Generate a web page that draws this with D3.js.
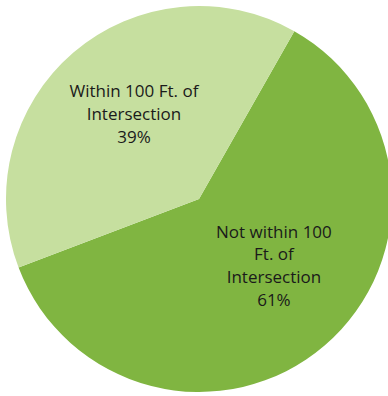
<!DOCTYPE html>
<html><head><meta charset="utf-8">
<script src="https://cdn.jsdelivr.net/npm/d3@7"></script>
<style>html,body{margin:0;padding:0;background:#fff;}svg{display:block;}</style>
</head><body>
<svg id="c" width="388" height="396"></svg>
<script>
const categories = ["Not within 100 Ft. of Intersection", "Within 100 Ft. of Intersection"];
const values = [61, 39];
const labelLines = [
  ["Not within 100", "Ft. of", "Intersection", "61%"],
  ["Within 100 Ft. of", "Intersection", "39%"]
];
const colors = ["#80B541", "#C6DF9F"];

const svg = d3.select("#c");
const cx = 199, cy = 199, r = 193;
const start = 29.6 * Math.PI / 180;
const pie = d3.pie().sort(null).value(d => d).startAngle(start).endAngle(start + 2 * Math.PI);
const arcs = pie(values);
const arc = d3.arc().innerRadius(0).outerRadius(r);
const g = svg.append("g").attr("transform", `translate(${cx},${cy})`);
g.selectAll("path").data(arcs).join("path")
  .attr("d", arc).attr("fill", (d, i) => colors[i]);

// label placement: radius fraction and angular nudge (degrees) from slice mid-angle
const labelRadius = [0.52, 0.555];
const labelNudge = [-7.7, 3.2];
const lineH = 22.8;
const fontSize = 17;
arcs.forEach((a, i) => {
  const mid = (a.startAngle + a.endAngle) / 2 + labelNudge[i] * Math.PI / 180;
  const rr = r * labelRadius[i];
  const x = rr * Math.sin(mid), y = -rr * Math.cos(mid);
  const lines = labelLines[i];
  const t = g.append("text")
    .attr("text-anchor", "middle")
    .attr("font-family", "'Open Sans', sans-serif")
    .attr("font-size", fontSize)
    .attr("fill", "#1a1a1a");
  lines.forEach((ln, k) => {
    t.append("tspan").attr("x", x)
      .attr("y", y + (k - (lines.length - 1) / 2) * lineH + fontSize * 0.35)
      .text(ln);
  });
});
</script>
</body></html>
